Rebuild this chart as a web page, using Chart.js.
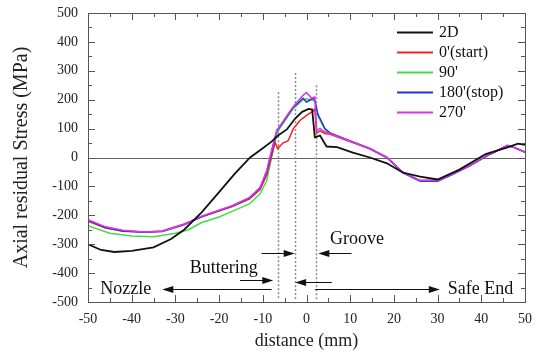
<!DOCTYPE html>
<html>
<head>
<meta charset="utf-8">
<script src="https://cdn.jsdelivr.net/npm/chart.js@4.4.1/dist/chart.umd.min.js"></script>
<style>
  body { margin: 0; background: #fff; }
  #wrap { width: 539px; height: 354px; }
</style>
</head>
<body>
<div id="wrap"><canvas id="stressChart"></canvas></div>
<script>
// distance (mm) / axial residual stress (MPa)
const dist2D   = [-50, -47, -44, -40, -35, -31, -28, -24, -20, -16.4, -12.9, -10, -8, -6.5, -4.5, -2.6, -1, 0.5, 1.3, 1.9, 3.1, 4.6, 7, 10.6, 14.5, 18.4, 22, 26, 30, 35, 41, 46, 48.4, 50];
const stress2D = [-300, -320, -327, -323, -311, -282, -250, -190, -120, -56, 0, 32, 55, 76, 97, 135, 158, 168, 166, 70, 76, 38, 36, 17, 0, -20, -52, -66, -76, -42, 12, 35, 48, 44];

const dist0   = [-50, -46, -42, -37, -33, -28, -24, -20, -17, -13, -10.6, -9.1, -8, -7.2, -6.6, -5.4, -4.2, -3, -1.5, 0, 1.5, 1.9, 2.3, 3.1, 4.2, 5.4, 10.6, 14.5, 18.4, 22, 26, 30, 33.6, 37.4, 41.3, 46, 47.3, 50];
const stress0 = [-220, -244, -255, -258, -254, -230, -205, -185, -170, -143, -110, -60, 5, 53, 31, 50, 58, 100, 128, 146, 160, 168, 85, 92, 83, 80, 52, 30, 0, -51, -80, -79, -56, -28, 7, 41, 36, 19];

const dist90   = [-50, -45, -40, -35, -30, -27, -24, -20, -16.5, -13, -10.6, -9.1, -8, -6.8, -6, -3.1, -0.8, 0, 1.5, 1.9, 2.6, 3.1, 4.2, 5.4, 10.6, 14.5, 18.4, 22, 26, 30, 33.6, 37.4, 41.3, 46, 47.3, 50];
const stress90 = [-236, -262, -272, -274, -262, -250, -225, -206, -183, -160, -125, -80, 0, 83, 104, 168, 200, 203, 198, 194, 145, 128, 98, 84, 53, 30, 0, -51, -80, -80, -56, -29, 6, 41, 36, 18];

const dist180   = [-50, -46, -42, -37, -33, -28, -24, -20, -17, -13, -10.6, -9.1, -8, -6.8, -6, -3.1, -0.8, 0, 1.5, 1.9, 2.6, 3.1, 4.2, 5.4, 10.6, 14.5, 18.4, 22, 26, 30, 33.6, 37.4, 41.3, 46, 47.3, 50];
const stress180 = [-217, -242, -254, -259, -256, -233, -205, -183, -168, -140, -105, -50, 20, 92, 108, 172, 205, 192, 205, 198, 150, 135, 100, 85, 54, 31, 0, -52, -82, -82, -57, -28, 6, 41, 36, 19];

const dist270   = [-50, -46, -42, -37, -33, -28, -24, -20, -17, -13, -10.6, -9.1, -8, -6.8, -6, -3.1, -0.8, 0, 1.2, 1.9, 2.3, 3.1, 4, 5.4, 10.6, 14.5, 18.4, 22, 26, 30, 33.6, 37.4, 41.3, 46, 47.3, 50];
const stress270 = [-215, -240, -252, -258, -255, -232, -203, -182, -167, -138, -103, -45, 24, 94, 111, 175, 215, 225, 205, 210, 94, 101, 90, 83, 53, 31, 1, -51, -80, -80, -56, -28, 7, 42, 36, 18];

const seriesLabels = ["2D", "0'(start)", "90'", "180'(stop)", "270'"];

// zone boundaries (mm) and how high each dotted line goes (MPa)
const zoneX   = [-6.5, -2.6, 2.1];
const zoneTop = [226, 292, 250];
const zoneBottom = -490;

const SERIF = '"Liberation Serif", "Times New Roman", serif';

const pts = (xs, ys) => xs.map((x, i) => ({ x: x, y: ys[i] }));

// arrows and labels in data units
const arrows = [
  { from: [-8, -455], to: [-33, -455] },
  { from: [1.9, -455], to: [30.5, -455] },
  { from: [-15.2, -425], to: [-7.6, -425] },
  { from: [5.8, -430], to: [-2.6, -430] },
  { from: [-10.3, -329], to: [-2.7, -329] },
  { from: [10.3, -329], to: [2.7, -329] }
];
const notes = [
  { text: 'Nozzle', x: -47.2, y: -455 },
  { text: 'Safe End', x: 32.3, y: -455 },
  { text: 'Buttering', x: -26.7, y: -385 },
  { text: 'Groove', x: 5.4, y: -282 }
];

const framePlugin = {
  id: 'frame',
  beforeDatasetsDraw(chart) {
    const { ctx, chartArea: a, scales: { x, y } } = chart;
    ctx.save();
    // zero line
    ctx.strokeStyle = '#666';
    ctx.lineWidth = 1;
    ctx.beginPath();
    ctx.moveTo(a.left, Math.round(y.getPixelForValue(0)) + 0.5);
    ctx.lineTo(a.right, Math.round(y.getPixelForValue(0)) + 0.5);
    ctx.stroke();
    // dotted zone lines
    ctx.strokeStyle = '#888';
    ctx.lineWidth = 1.5;
    ctx.setLineDash([2, 2]);
    zoneX.forEach((v, i) => {
      const px = Math.round(x.getPixelForValue(v)) + 0.5;
      ctx.beginPath();
      ctx.moveTo(px, y.getPixelForValue(zoneTop[i]));
      ctx.lineTo(px, y.getPixelForValue(zoneBottom));
      ctx.stroke();
    });
    ctx.restore();
  },
  afterDatasetsDraw(chart) {
    const { ctx, chartArea: a, scales: { x, y } } = chart;
    ctx.save();
    ctx.strokeStyle = '#555';
    ctx.lineWidth = 1;
    ctx.strokeRect(Math.round(a.left) + 0.5, Math.round(a.top) + 0.5,
                   Math.round(a.right - a.left), Math.round(a.bottom - a.top));
    ctx.beginPath();
    for (let v = -50; v <= 50; v += 5) {
      const px = Math.round(x.getPixelForValue(v)) + 0.5;
      const len = v % 10 === 0 ? 7 : 4;
      ctx.moveTo(px, a.bottom); ctx.lineTo(px, a.bottom - len);
      ctx.moveTo(px, a.top); ctx.lineTo(px, a.top + len);
    }
    for (let v = -500; v <= 500; v += 50) {
      const py = Math.round(y.getPixelForValue(v)) + 0.5;
      const len = v % 100 === 0 ? 7 : 4;
      ctx.moveTo(a.left, py); ctx.lineTo(a.left + len, py);
      ctx.moveTo(a.right, py); ctx.lineTo(a.right - len, py);
    }
    ctx.stroke();

    // arrows
    ctx.strokeStyle = '#111';
    ctx.fillStyle = '#111';
    arrows.forEach(ar => {
      const x1 = x.getPixelForValue(ar.from[0]), y1 = Math.round(y.getPixelForValue(ar.from[1])) + 0.5;
      const x2 = x.getPixelForValue(ar.to[0]);
      const dir = x2 > x1 ? 1 : -1;
      ctx.beginPath();
      ctx.moveTo(x1, y1); ctx.lineTo(x2 - dir * 8, y1);
      ctx.stroke();
      ctx.beginPath();
      ctx.moveTo(x2, y1);
      ctx.lineTo(x2 - dir * 11, y1 - 3.5);
      ctx.lineTo(x2 - dir * 11, y1 + 3.5);
      ctx.closePath();
      ctx.fill();
    });
    ctx.font = '18px ' + SERIF;
    ctx.textAlign = 'left';
    ctx.textBaseline = 'middle';
    notes.forEach(n => ctx.fillText(n.text, x.getPixelForValue(n.x), y.getPixelForValue(n.y)));

    // legend
    ctx.font = '16px ' + SERIF;
    chart.data.datasets.forEach((ds, i) => {
      const ly = Math.round(a.top + 19 + i * 20) + 0.5;
      ctx.strokeStyle = ds.borderColor;
      ctx.lineWidth = 2;
      ctx.beginPath();
      ctx.moveTo(a.right - 128, ly); ctx.lineTo(a.right - 92, ly);
      ctx.stroke();
      ctx.fillStyle = '#111';
      ctx.fillText(ds.label, a.right - 86, ly);
    });
    ctx.restore();
  }
};

new Chart(document.getElementById('stressChart'), {
  type: 'line',
  data: {
    datasets: [
      { label: seriesLabels[0], data: pts(dist2D, stress2D), borderColor: '#111111', borderWidth: 1.8, order: 0 },
      { label: seriesLabels[1], data: pts(dist0, stress0), borderColor: '#ee2222', borderWidth: 1.5, order: 3 },
      { label: seriesLabels[2], data: pts(dist90, stress90), borderColor: '#44dd44', borderWidth: 1.5, order: 4 },
      { label: seriesLabels[3], data: pts(dist180, stress180), borderColor: '#2233dd', borderWidth: 1.5, order: 2 },
      { label: seriesLabels[4], data: pts(dist270, stress270), borderColor: '#dd33ee', borderWidth: 1.5, order: 1 }
    ]
  },
  options: {
    responsive: true,
    maintainAspectRatio: false,
    animation: false,
    elements: { point: { radius: 0 }, line: { tension: 0, fill: false } },
    layout: { padding: { top: 13, right: 14, left: 0, bottom: 0 } },
    plugins: { legend: { display: false }, tooltip: { enabled: false } },
    scales: {
      x: {
        type: 'linear',
        min: -50, max: 50,
        grid: { display: false, drawTicks: false },
        border: { display: false },
        ticks: { stepSize: 10, autoSkip: false, maxRotation: 0, padding: 9, color: '#222', font: { family: SERIF, size: 14 } },
        title: { display: true, text: 'distance (mm)', color: '#222', padding: { top: 0, bottom: 2 }, font: { family: SERIF, size: 18 } },
        afterFit: s => { s.height = 52; s.paddingLeft = 0; s.paddingRight = 0; }
      },
      y: {
        min: -500, max: 500,
        grid: { display: false, drawTicks: false },
        border: { display: false },
        ticks: { stepSize: 100, autoSkip: false, padding: 10, color: '#222', font: { family: SERIF, size: 14 } },
        title: { display: true, text: 'Axial residual Stress (MPa)', color: '#222', padding: { top: 10, bottom: 0 }, font: { family: SERIF, size: 20 } },
        afterFit: s => { s.width = 88; s.paddingTop = 0; s.paddingBottom = 0; }
      }
    }
  },
  plugins: [framePlugin]
});
</script>
</body>
</html>
